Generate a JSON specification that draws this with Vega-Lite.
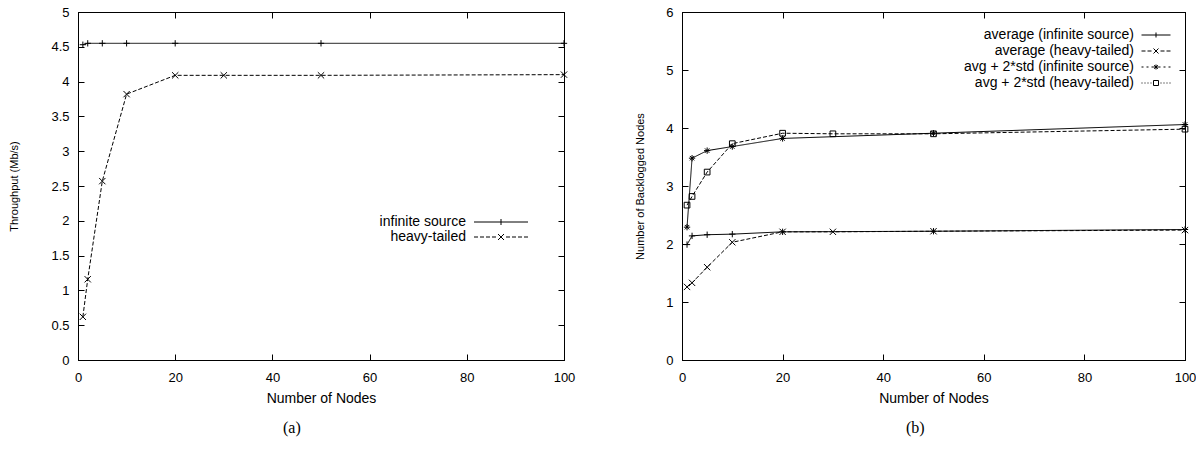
{
  "$schema": "https://vega.github.io/schema/vega-lite/v6.json",
  "background": "white",
  "padding": {"left": 8, "top": 5, "right": 5, "bottom": 5},
  "spacing": 58,
  "config": {
    "view": {"stroke": "#000", "strokeWidth": 1},
    "font": "Liberation Sans",
    "axis": {
      "domainColor": "#000", "domainWidth": 1, "tickColor": "#000", "tickWidth": 1,
      "tickSize": -6, "labelPadding": 15, "labelFont": "Liberation Sans", "labelFontSize": 13,
      "labelColor": "#000", "titleFont": "Liberation Sans", "titleFontSize": 14,
      "titleFontWeight": "normal", "titleColor": "#000", "grid": false,
      "labelFlush": false, "labelOverlap": false
    },
    "axisX": {"titlePadding": 7, "labelPadding": 17},
    "axisY": {"titleFontSize": 11},
    "legend": {
      "labelFont": "Liberation Sans", "labelFontSize": 14, "labelColor": "#000",
      "labelAlign": "right", "labelLimit": 400, "symbolStrokeColor": "#000", "symbolStrokeWidth": 1,
      "symbolFillColor": "transparent", "symbolOpacity": 1, "padding": 0, "symbolSize": 4
    },
    "title": {
      "orient": "bottom", "frame": "bounds", "anchor": "middle",
      "font": "Liberation Serif", "fontSize": 16, "fontWeight": "normal", "color": "#000", "offset": 15
    }
  },
  "hconcat": [
    {
      "width": 486, "height": 348,
      "title": {"text": "(a)"},
      "data": {"values": [
        {"series": "infinite source", "nodes": 1, "value": 4.53},
        {"series": "infinite source", "nodes": 2, "value": 4.55},
        {"series": "infinite source", "nodes": 5, "value": 4.55},
        {"series": "infinite source", "nodes": 10, "value": 4.55},
        {"series": "infinite source", "nodes": 20, "value": 4.55},
        {"series": "infinite source", "nodes": 50, "value": 4.55},
        {"series": "infinite source", "nodes": 100, "value": 4.55},
        {"series": "heavy-tailed", "nodes": 1, "value": 0.62},
        {"series": "heavy-tailed", "nodes": 2, "value": 1.16},
        {"series": "heavy-tailed", "nodes": 5, "value": 2.57},
        {"series": "heavy-tailed", "nodes": 10, "value": 3.82},
        {"series": "heavy-tailed", "nodes": 20, "value": 4.09},
        {"series": "heavy-tailed", "nodes": 30, "value": 4.09},
        {"series": "heavy-tailed", "nodes": 50, "value": 4.09},
        {"series": "heavy-tailed", "nodes": 100, "value": 4.10}
      ]},
      "layer": [
        {
          "mark": {"type": "line", "color": "#000", "strokeWidth": 1},
          "encoding": {
            "x": {"field": "nodes", "type": "quantitative", "scale": {"domain": [0, 100], "nice": false},
                  "axis": {"title": "Number of Nodes", "values": [0, 20, 40, 60, 80, 100]}},
            "y": {"field": "value", "type": "quantitative", "scale": {"domain": [0, 5], "nice": false},
                  "axis": {"title": "Throughput (Mb/s)", "values": [0, 0.5, 1, 1.5, 2, 2.5, 3, 3.5, 4, 4.5, 5], "format": "~g", "titlePadding": 31}},
            "strokeDash": {"field": "series", "type": "nominal",
                  "scale": {"domain": ["infinite source", "heavy-tailed"], "range": [[1, 0], [4, 2]]}, "legend": null}
          }
        },
        {
          "mark": {"type": "point", "filled": false, "color": "#000", "strokeWidth": 1, "size": 40, "opacity": 1},
          "encoding": {
            "x": {"field": "nodes", "type": "quantitative", "scale": {"domain": [0, 100], "nice": false},
                  "axis": {"orient": "top", "labels": false, "title": null, "values": [0, 20, 40, 60, 80, 100]}},
            "y": {"field": "value", "type": "quantitative", "scale": {"domain": [0, 5], "nice": false},
                  "axis": {"orient": "right", "labels": false, "title": null, "values": [0, 0.5, 1, 1.5, 2, 2.5, 3, 3.5, 4, 4.5, 5]}},
            "shape": {"field": "series", "type": "nominal",
                  "scale": {"domain": ["infinite source", "heavy-tailed"], "range": ["M-1,0H1M0,-1V1", "M-1,-1L1,1M-1,1L1,-1"]}, "legend": null}
          }
        },
        {
          "transform": [{"filter": "false"}],
          "mark": {"type": "point", "filled": false, "color": "#000", "opacity": 0},
          "encoding": {
            "x": {"field": "nodes", "type": "quantitative", "scale": {"domain": [0, 100], "nice": false}, "axis": null},
            "y": {"field": "value", "type": "quantitative", "scale": {"domain": [0, 5], "nice": false}, "axis": null},
            "shape": {"field": "series", "type": "nominal",
              "scale": {"domain": ["infinite source", "heavy-tailed"], "range": [
                "M-150,0M-27,0H27M0,-3V3",
                "M-150,0M-27,0H-23M-21,0H-17M-15,0H-11M-9,0H-5M-3,-3L3,3M-3,3L3,-3M5,0H9M11,0H15M17,0H21M23,0H27"
              ]},
              "legend": {"title": null, "orient": "none", "legendX": 416, "legendY": 203, "labelOffset": -42, "labelAlign": "right", "rowPadding": 1}}
          }
        }
      ],
      "resolve": {"scale": {"shape": "independent", "x": "independent", "y": "independent"}, "axis": {"x": "independent", "y": "independent"}}
    },
    {
      "width": 503, "height": 348,
      "title": {"text": "(b)"},
      "data": {"values": [
        {"series": "average (infinite source)", "nodes": 1, "value": 1.99},
        {"series": "average (infinite source)", "nodes": 2, "value": 2.14},
        {"series": "average (infinite source)", "nodes": 5, "value": 2.16},
        {"series": "average (infinite source)", "nodes": 10, "value": 2.17},
        {"series": "average (infinite source)", "nodes": 20, "value": 2.21},
        {"series": "average (infinite source)", "nodes": 50, "value": 2.22},
        {"series": "average (infinite source)", "nodes": 100, "value": 2.25},
        {"series": "average (heavy-tailed)", "nodes": 1, "value": 1.26},
        {"series": "average (heavy-tailed)", "nodes": 2, "value": 1.33},
        {"series": "average (heavy-tailed)", "nodes": 5, "value": 1.6},
        {"series": "average (heavy-tailed)", "nodes": 10, "value": 2.03},
        {"series": "average (heavy-tailed)", "nodes": 20, "value": 2.21},
        {"series": "average (heavy-tailed)", "nodes": 30, "value": 2.21},
        {"series": "average (heavy-tailed)", "nodes": 50, "value": 2.22},
        {"series": "average (heavy-tailed)", "nodes": 100, "value": 2.24},
        {"series": "avg + 2*std (infinite source)", "nodes": 1, "value": 2.29},
        {"series": "avg + 2*std (infinite source)", "nodes": 2, "value": 3.48},
        {"series": "avg + 2*std (infinite source)", "nodes": 5, "value": 3.61},
        {"series": "avg + 2*std (infinite source)", "nodes": 10, "value": 3.68},
        {"series": "avg + 2*std (infinite source)", "nodes": 20, "value": 3.82},
        {"series": "avg + 2*std (infinite source)", "nodes": 50, "value": 3.91},
        {"series": "avg + 2*std (infinite source)", "nodes": 100, "value": 4.06},
        {"series": "avg + 2*std (heavy-tailed)", "nodes": 1, "value": 2.67},
        {"series": "avg + 2*std (heavy-tailed)", "nodes": 2, "value": 2.82},
        {"series": "avg + 2*std (heavy-tailed)", "nodes": 5, "value": 3.24},
        {"series": "avg + 2*std (heavy-tailed)", "nodes": 10, "value": 3.73},
        {"series": "avg + 2*std (heavy-tailed)", "nodes": 20, "value": 3.91},
        {"series": "avg + 2*std (heavy-tailed)", "nodes": 30, "value": 3.9},
        {"series": "avg + 2*std (heavy-tailed)", "nodes": 50, "value": 3.9},
        {"series": "avg + 2*std (heavy-tailed)", "nodes": 100, "value": 3.98}
      ]},
      "layer": [
        {
          "mark": {"type": "line", "color": "#000", "strokeWidth": 1},
          "encoding": {
            "x": {"field": "nodes", "type": "quantitative", "scale": {"domain": [0, 100], "nice": false},
                  "axis": {"title": "Number of Nodes", "values": [0, 20, 40, 60, 80, 100]}},
            "y": {"field": "value", "type": "quantitative", "scale": {"domain": [0, 6], "nice": false},
                  "axis": {"title": "Number of Backlogged Nodes", "values": [0, 1, 2, 3, 4, 5, 6], "format": "~g", "titlePadding": 20}},
            "strokeDash": {"field": "series", "type": "nominal",
                  "scale": {"domain": ["average (infinite source)", "average (heavy-tailed)", "avg + 2*std (infinite source)", "avg + 2*std (heavy-tailed)"],
                            "range": [[1, 0], [4, 2], [2, 3], [1, 2]]}, "legend": null}
          }
        },
        {
          "mark": {"type": "point", "filled": false, "color": "#000", "strokeWidth": 1, "size": 40, "opacity": 1},
          "encoding": {
            "x": {"field": "nodes", "type": "quantitative", "scale": {"domain": [0, 100], "nice": false},
                  "axis": {"orient": "top", "labels": false, "title": null, "values": [0, 20, 40, 60, 80, 100]}},
            "y": {"field": "value", "type": "quantitative", "scale": {"domain": [0, 6], "nice": false},
                  "axis": {"orient": "right", "labels": false, "title": null, "values": [0, 1, 2, 3, 4, 5, 6]}},
            "shape": {"field": "series", "type": "nominal",
                  "scale": {"domain": ["average (infinite source)", "average (heavy-tailed)", "avg + 2*std (infinite source)", "avg + 2*std (heavy-tailed)"],
                            "range": ["M-1,0H1M0,-1V1", "M-1,-1L1,1M-1,1L1,-1", "M-1,0H1M0,-1V1M-0.7,-0.7L0.7,0.7M-0.7,0.7L0.7,-0.7", "M-0.9,-0.9H0.9V0.9H-0.9Z"]}, "legend": null}
          }
        },
        {
          "transform": [{"filter": "false"}],
          "mark": {"type": "point", "filled": false, "color": "#000", "opacity": 0},
          "encoding": {
            "x": {"field": "nodes", "type": "quantitative", "scale": {"domain": [0, 100], "nice": false}, "axis": null},
            "y": {"field": "value", "type": "quantitative", "scale": {"domain": [0, 6], "nice": false}, "axis": null},
            "shape": {"field": "series", "type": "nominal",
              "scale": {"domain": ["average (infinite source)", "average (heavy-tailed)", "avg + 2*std (infinite source)", "avg + 2*std (heavy-tailed)"],
                "range": [
                  "M-232,0M-14.5,0H14.5M0,-2.5V2.5",
                  "M-232,0M-14.5,0H-10.5M-8.5,0H-4.5M-2.5,-2.5L2.5,2.5M-2.5,2.5L2.5,-2.5M4.5,0H8.5M10.5,0H14.5",
                  "M-232,0M-14.5,0H-12.5M-9.5,0H-7.5M-4.5,0H-2.5M-2.5,0H2.5M0,-2.5V2.5M-1.8,-1.8L1.8,1.8M-1.8,1.8L1.8,-1.8M2.5,0H4.5M7.5,0H9.5M12.5,0H14.5",
                  "M-232,0M-14.5,0H-13.5M-11.5,0H-10.5M-8.5,0H-7.5M-5.5,0H-4.5M-2.5,-2.5H2.5V2.5H-2.5ZM4.5,0H5.5M7.5,0H8.5M10.5,0H11.5M13.5,0H14.5"
                ]},
              "legend": {"title": null, "orient": "none", "legendX": 467, "legendY": 16, "labelOffset": -29, "labelAlign": "right", "rowPadding": 2}}
          }
        }
      ],
      "resolve": {"scale": {"shape": "independent", "x": "independent", "y": "independent"}, "axis": {"x": "independent", "y": "independent"}}
    }
  ]
}
